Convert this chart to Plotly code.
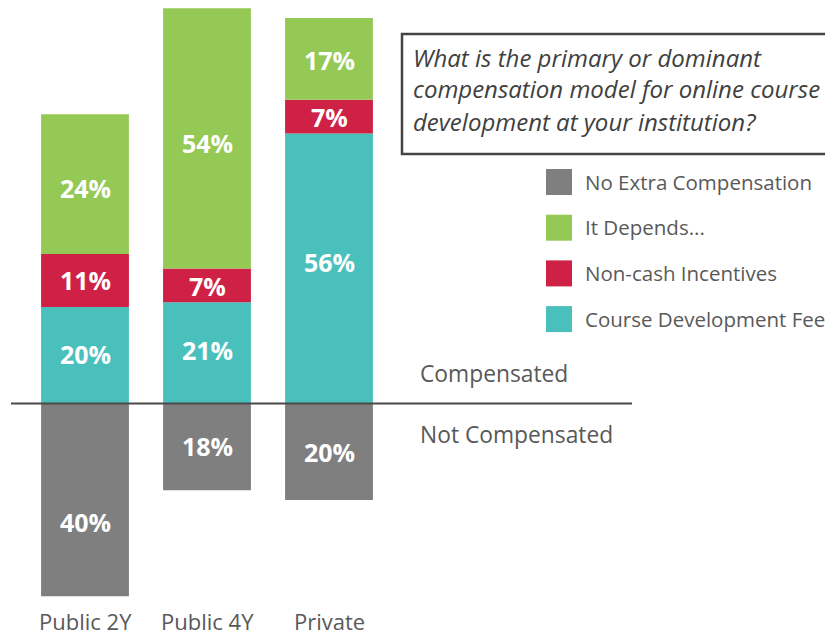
import plotly.graph_objects as go

categories = ["Public 2Y", "Public 4Y", "Private"]
series_names = ["No Extra Compensation", "It Depends...", "Non-cash Incentives", "Course Development Fee"]
no_extra = [-40, -18, -20]
no_extra_labels = ["40%", "18%", "20%"]
course_fee = [20, 21, 56]
course_fee_labels = ["20%", "21%", "56%"]
non_cash = [11, 7, 7]
non_cash_labels = ["11%", "7%", "7%"]
depends = [29, 54, 17]
depends_labels = ["24%", "54%", "17%"]
colors = {"No Extra Compensation": "#7f7f7f", "It Depends...": "#95c955",
          "Non-cash Incentives": "#cf2045", "Course Development Fee": "#4ac0bd"}
question_lines = ["What is the primary or dominant",
                  "compensation model for online course",
                  "development at your institution?"]
side_labels = ["Compensated", "Not Compensated"]

# label vertical nudges in pixels (positive = down), per series, per category
label_nudge = {
    "No Extra Compensation": [22, -1, 0],
    "Course Development Fee": [-1, -3, -7],
    "Non-cash Incentives": [-1, 1, 0],
    "It Depends...": [4, 5, 1],
}

OFF = 8  # page body margin
W, H = 833 - OFF, 637 - OFF
FONT = "Open Sans"


def px(sx):
    return (sx - OFF) / W


def py(sy):
    return 1 - (sy - OFF) / H


fig = go.Figure()
annotations = []
pos_base = [0, 0, 0]
for name, vals, labels in [
    ("No Extra Compensation", no_extra, no_extra_labels),
    ("Course Development Fee", course_fee, course_fee_labels),
    ("Non-cash Incentives", non_cash, non_cash_labels),
    ("It Depends...", depends, depends_labels),
]:
    fig.add_trace(go.Bar(
        x=categories, y=vals, name=name, width=0.72,
        marker=dict(color=colors[name], line=dict(width=0)),
        hoverinfo="skip", showlegend=False,
    ))
    for i, (c, v, lab) in enumerate(zip(categories, vals, labels)):
        if v < 0:
            mid = v / 2
        else:
            mid = pos_base[i] + v / 2
            pos_base[i] += v
        annotations.append(dict(xref="x", yref="y", x=c, y=mid, text=lab, showarrow=False,
                                xanchor="center", yanchor="middle",
                                yshift=-label_nudge[name][i],
                                font=dict(family=FONT, size=25, color="white", weight="bold")))

px_per = 4.82
base_px = 403.5 - OFF
y_top = base_px / px_per
y_bot = -(H - base_px) / px_per
x_left = -(85 - OFF) / 122
x_right = x_left + W / 122

shapes = []
# baseline
shapes.append(dict(type="line", xref="paper", yref="y", x0=px(11), x1=px(632), y0=0, y1=0,
                   line=dict(color="#4a4a4a", width=2), layer="above"))
# question box
shapes.append(dict(type="rect", xref="paper", yref="paper",
                   x0=px(402), x1=1.01, y0=py(34), y1=py(154),
                   line=dict(color="#444444", width=2.5), fillcolor="rgba(0,0,0,0)"))
for i, line in enumerate(question_lines):
    annotations.append(dict(xref="paper", yref="paper", x=px(411), y=py(57 + 32 * i),
                            text=line, showarrow=False, xanchor="left", yanchor="middle",
                            font=dict(family=FONT, size=24, color="#404040", style="italic")))
# legend
legend_order = ["No Extra Compensation", "It Depends...", "Non-cash Incentives", "Course Development Fee"]
for i, name in enumerate(legend_order):
    cy = 182 + 45.7 * i
    shapes.append(dict(type="rect", xref="paper", yref="paper",
                       x0=px(546), x1=px(572), y0=py(cy - 13), y1=py(cy + 13),
                       line=dict(width=0), fillcolor=colors[name]))
    annotations.append(dict(xref="paper", yref="paper", x=px(583), y=py(cy - 0.5),
                            text=name, showarrow=False, xanchor="left", yanchor="middle",
                            font=dict(family=FONT, size=20.5, color="#595959")))
# side labels
for txt, cy in zip(side_labels, [373, 434]):
    annotations.append(dict(xref="paper", yref="paper", x=px(418), y=py(cy),
                            text=txt, showarrow=False, xanchor="left", yanchor="middle",
                            font=dict(family=FONT, size=22.8, color="#595959")))
# category labels
for c in categories:
    annotations.append(dict(xref="x", yref="paper", x=c, y=py(621),
                            text=c, showarrow=False, xanchor="center", yanchor="middle",
                            font=dict(family=FONT, size=22, color="#595959")))

fig.update_layout(
    width=W, height=H, barmode="relative",
    margin=dict(l=0, r=0, t=0, b=0),
    paper_bgcolor="white", plot_bgcolor="white",
    xaxis=dict(range=[x_left, x_right], showticklabels=False, showgrid=False,
               zeroline=False, showline=False, fixedrange=True),
    yaxis=dict(range=[y_bot, y_top], showticklabels=False, showgrid=False,
               zeroline=False, showline=False, fixedrange=True),
    shapes=shapes, annotations=annotations,
    font=dict(family=FONT),
)
fig.write_html("out.html", config={"displayModeBar": False})
